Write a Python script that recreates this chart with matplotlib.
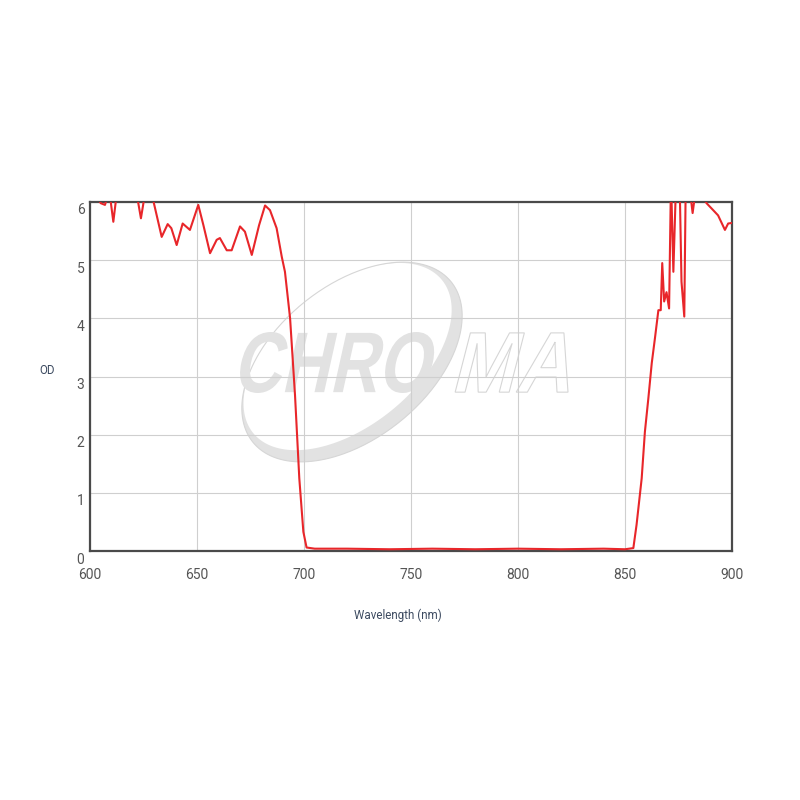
import matplotlib
matplotlib.use("Agg")
import matplotlib.pyplot as plt
from matplotlib.patches import PathPatch
from matplotlib.path import Path
from matplotlib.textpath import TextPath
from matplotlib.font_manager import FontProperties
from matplotlib.transforms import ScaledTranslation, Affine2D, IdentityTransform
import numpy as np

plt.rcParams['font.family'] = ['Roboto', 'DejaVu Sans']

# Data (wavelength nm, optical density)
wavelength = [600, 603, 605, 607, 609, 610.9, 613, 616, 620, 622, 623.8, 625.5, 627.5, 629.6,
              633.5, 636.3, 638, 640.5, 643.3, 646.7, 650.6, 653, 656.1, 659.2, 660.7,
              663.9, 666.2, 670.1, 672.4, 675.6, 679, 681.8, 684.1, 687.2, 689.6, 691.1,
              693.5, 695.8, 697.8, 699.7, 701.2, 705, 720, 740, 760, 780, 800, 820, 840,
              850, 853.9, 855.4, 857.8, 859.3, 860.9, 862.5, 864.0, 865.6, 866.7, 867.4,
              868.3, 869.4, 870.6, 871.5, 872.6, 873.9, 875.5, 876.4, 877.7, 878.4,
              880, 881.6, 883, 886, 888.1, 891.2, 893.5, 896.7, 898.2, 900]
od = [6.3, 6.1, 5.98, 5.95, 6.2, 5.66, 6.3, 6.5, 6.4, 6.1, 5.72, 6.1, 6.3, 6.02,
      5.40, 5.62, 5.55, 5.26, 5.63, 5.52, 5.95, 5.6, 5.12, 5.35, 5.38,
      5.17, 5.17, 5.58, 5.49, 5.09, 5.6, 5.94, 5.86, 5.55, 5.06, 4.80,
      4.00, 2.68, 1.25, 0.33, 0.06, 0.04, 0.04, 0.03, 0.04, 0.03, 0.04, 0.03, 0.04,
      0.03, 0.05, 0.45, 1.25, 2.05, 2.62, 3.23, 3.66, 4.14, 4.14, 4.95,
      4.29, 4.45, 4.17, 6.4, 4.80, 6.4, 6.4, 4.63, 4.03, 6.4,
      6.3, 5.81, 6.2, 6.1, 5.98, 5.86, 5.77, 5.52, 5.63, 5.64]
x_ticks = [600, 650, 700, 750, 800, 850, 900]
y_ticks = [0, 1, 2, 3, 4, 5, 6]

W, H = 800, 800
fig = plt.figure(figsize=(8, 8), dpi=100)
fig.patch.set_facecolor("white")
ax = fig.add_axes([0.1125, 0.31125, 0.8025, 0.43625])

# ---- Watermark (display-pixel coordinates, y up) ----
ident = IdentityTransform()
wm_fill = "#e2e2e2"
wm_edge = "#d6d6d6"

# Ellipse swoosh
cx, cy = 352, H - 362
a, b, th = 127.5, 76.5, np.deg2rad(39)
t = np.linspace(0, 2 * np.pi, 300)
def ell(cx, cy, a, b):
    x = a * np.cos(t)
    y = b * np.sin(t)
    return np.column_stack([cx + x * np.cos(th) - y * np.sin(th),
                            cy + x * np.sin(th) + y * np.cos(th)])
outer = ell(cx, cy, a, b)
d = 7.0
mx, my = -np.sin(th), np.cos(th)  # minor axis direction (upper-left)
inner = ell(cx + d * mx, cy + d * my, a - 6, b - 7)[::-1]
verts = np.vstack([outer, outer[:1], inner, inner[:1]])
codes = ([Path.MOVETO] + [Path.LINETO] * (len(outer) - 1) + [Path.CLOSEPOLY] +
         [Path.MOVETO] + [Path.LINETO] * (len(inner) - 1) + [Path.CLOSEPOLY])
ax.add_patch(PathPatch(Path(verts, codes), facecolor=wm_fill, edgecolor="none",
                       transform=ident, zorder=0.1, clip_on=False))
ax.add_patch(PathPatch(Path(np.vstack([outer, outer[:1]])), facecolor="none",
                       edgecolor=wm_edge, lw=0.8, transform=ident, zorder=0.1, clip_on=False))

# Text "CHRO" filled + "MA" outlined
fp = FontProperties(family="Liberation Sans", weight="bold")
skew = Affine2D().skew_deg(16, 0)
p1 = skew.transform_path(TextPath((0, 0), "CHRO", size=10, prop=fp))
p2 = skew.transform_path(TextPath((0, 0), "MA", size=10, prop=fp))
ally = np.concatenate([p1.vertices[:, 1], p2.vertices[:, 1]])
y0, y1 = ally.min(), ally.max()
sy = (393 - 332) / (y1 - y0)
def place(p, left, right):
    x0, x1 = p.vertices[:, 0].min(), p.vertices[:, 0].max()
    sx = (right - left) / (x1 - x0)
    return Affine2D().translate(-x0, -y0).scale(sx, sy).translate(left, H - 393).transform_path(p)
ax.add_patch(PathPatch(place(p1, 232, 436), facecolor=wm_fill, edgecolor="none",
                       transform=ident, zorder=0.1, clip_on=False))
ax.add_patch(PathPatch(place(p2, 450, 568), facecolor="none", edgecolor=wm_edge,
                       lw=0.8, transform=ident, zorder=0.1, clip_on=False))

# ---- Data ----
ax.plot(wavelength, od, color="#e8262a", lw=1.5, zorder=3)

ax.set_xlim(600, 900)
ax.set_ylim(0, 6)
ax.set_xticks(x_ticks)
ax.set_yticks(y_ticks)
ax.grid(True, color="#cfcfcf", lw=0.8)
ax.set_axisbelow(True)
for s in ax.spines.values():
    s.set_color("#4a4a4a")
    s.set_linewidth(1.6)
ax.tick_params(length=0, labelsize=10, labelcolor="#555555")
ax.tick_params(axis="x", pad=12)
ax.tick_params(axis="y", pad=4)
for lab in ax.get_yticklabels():
    lab.set_transform(lab.get_transform() + ScaledTranslation(0, -0.07, fig.dpi_scale_trans))

fig.text(47 / W, 1 - 370 / H, "OD", ha="center", va="center", fontsize=8.3, color="#3c4a60")
fig.text(398 / W, 1 - 615 / H, "Wavelength (nm)", ha="center", va="center", fontsize=8.4, color="#3c4a60")

fig.savefig("out.png", dpi=100, facecolor="white")
